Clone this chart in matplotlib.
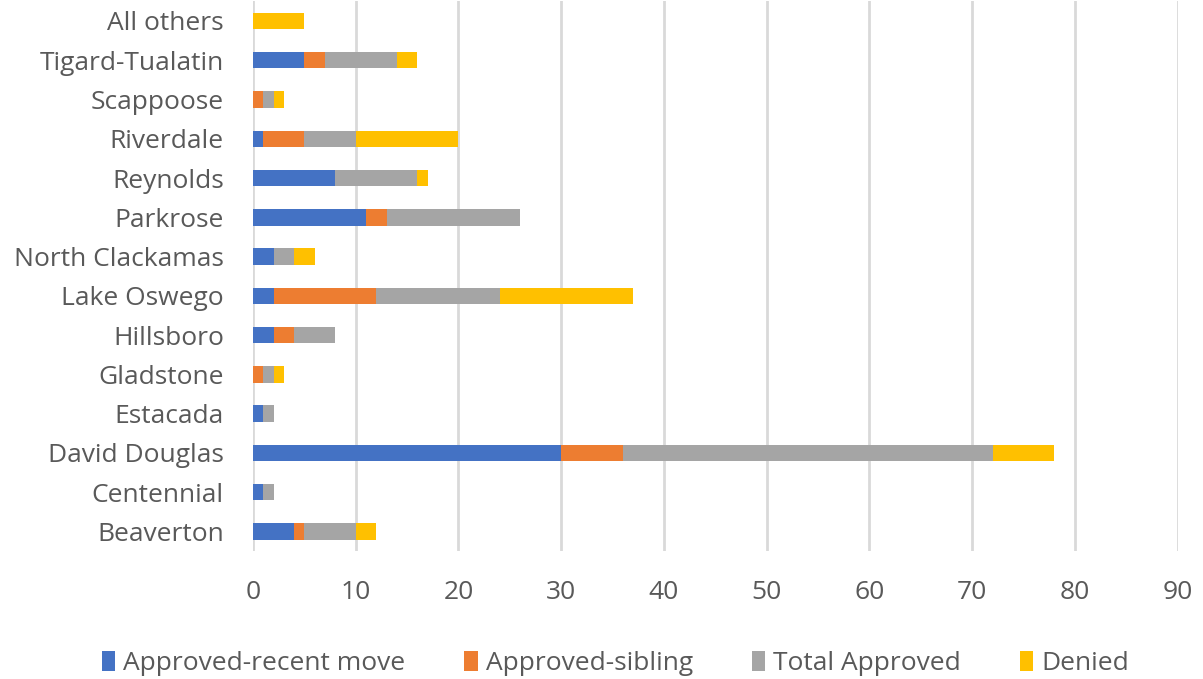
import numpy as np
import matplotlib.pyplot as plt

districts = ["Beaverton", "Centennial", "David Douglas", "Estacada", "Gladstone",
             "Hillsboro", "Lake Oswego", "North Clackamas", "Parkrose", "Reynolds",
             "Riverdale", "Scappoose", "Tigard-Tualatin", "All others"]
recent_move = [4, 1, 30, 1, 0, 2, 2, 2, 11, 8, 1, 0, 5, 0]
sibling = [1, 0, 6, 0, 1, 2, 10, 0, 2, 0, 4, 1, 2, 0]
total_approved = [5, 1, 36, 1, 1, 4, 12, 2, 13, 8, 5, 1, 7, 0]
denied = [2, 0, 6, 0, 1, 0, 13, 2, 0, 1, 10, 1, 2, 5]

series = [("Approved-recent move", recent_move, "#4472c4"),
          ("Approved-sibling", sibling, "#ed7d31"),
          ("Total Approved", total_approved, "#a5a5a5"),
          ("Denied", denied, "#ffc000")]

plt.rcParams['font.family'] = ['Open Sans', 'DejaVu Sans']

fig = plt.figure(figsize=(12.03, 6.79), dpi=100)
ax = fig.add_axes([0.2103, 0.1885, 0.7687, 0.8095])

y = np.arange(len(districts))
left = np.zeros(len(districts))
for name, vals, col in series:
    ax.barh(y, vals, left=left, height=0.42, color=col, label=name, zorder=3)
    left += np.array(vals)

ax.set_xlim(0, 90)
ax.set_ylim(-0.5, len(districts) - 0.5)
ax.set_xticks(range(0, 91, 10))
ax.set_yticks(y)
ax.set_yticklabels(districts)
ax.grid(axis='x', color='#d9d9d9', linewidth=2, zorder=0)
for s in ax.spines.values():
    s.set_visible(False)
ax.tick_params(axis='both', length=0, labelsize=19, labelcolor='#595959')
ax.tick_params(axis='x', pad=21)
ax.tick_params(axis='y', pad=21)

ax.legend(loc='center', bbox_to_anchor=(0.392, -0.205), ncol=4, frameon=False,
          fontsize=19, labelcolor='#595959', handlelength=0.5, handleheight=0.8,
          handletextpad=0.3, columnspacing=2.25)

fig.savefig("out.png", dpi=100)
